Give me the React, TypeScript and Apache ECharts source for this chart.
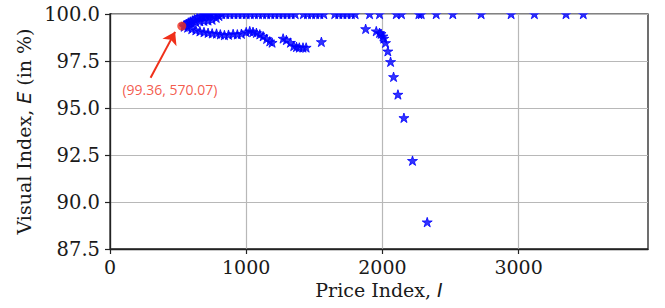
import React, { useEffect, useRef } from "react";
import * as echarts from "echarts";

// Points sitting on the 100 % ceiling
const topRowX = [700, 730, 760, 790, 820, 850, 880, 910, 940, 970, 1000, 1030, 1060, 1090, 1120, 1150, 1180, 1210, 1240, 1270, 1300, 1330, 1360, 1420, 1450, 1480, 1510, 1540, 1570, 1650, 1680, 1710, 1740, 1772, 1800, 1906, 1979, 2102, 2140, 2268, 2285, 2395, 2517, 2725, 2945, 3116, 3348, 3475];
const topRowY = topRowX.map(() => 100);

// Upper rising band from the marked point
const upperX = [545, 560, 575, 590, 605, 620, 640, 660, 680, 700, 720, 740];
const upperY = [99.42, 99.48, 99.55, 99.6, 99.66, 99.72, 99.8, 99.86, 99.9, 99.95, 99.97, 99.99];

// Middle strand (loop)
const midX = [600, 630, 660, 690, 720, 750, 780, 800];
const midY = [99.52, 99.58, 99.62, 99.64, 99.66, 99.7, 99.8, 99.9];

// Lower strand
const lowerX = [545, 570, 600, 630, 660, 690, 720, 750, 782, 810, 840, 870, 904, 935, 965, 1000, 1026, 1050, 1075, 1100, 1124, 1150, 1173, 1190, 1271, 1295, 1325, 1349, 1369, 1390, 1417, 1440, 1552];
const lowerY = [99.33, 99.28, 99.2, 99.14, 99.08, 99.04, 99.0, 98.97, 98.96, 98.92, 98.88, 98.9, 98.94, 98.92, 98.95, 99.04, 99.09, 99.05, 99.0, 98.92, 98.82, 98.68, 98.55, 98.48, 98.7, 98.62, 98.48, 98.3, 98.25, 98.22, 98.22, 98.22, 98.52];

// Sharp drop near I = 2000
const dropX = [1877, 1955, 1979, 1990, 2004, 2010, 2023, 2040, 2060, 2082, 2114, 2158, 2221, 2329];
const dropY = [99.21, 99.09, 99.0, 98.95, 98.82, 98.7, 98.47, 98.02, 97.46, 96.66, 95.72, 94.48, 92.2, 88.93];

// Highlighted point and its annotation
const markedPoint = [527, 99.36];
const annotationText = "(99.36, 570.07)";
const annotationAnchor = [440, 95.98];
const arrowTail = [298, 96.61];
const arrowHead = [478, 99.05];

const xTicks = [0, 1000, 2000, 3000];

const STAR =
  "path://M0,-100 L22.39,-30.82 L95.11,-30.90 L36.23,11.77 L58.78,80.90 L0,38.1 L-58.78,80.90 L-36.23,11.77 L-95.11,-30.90 L-22.39,-30.82 Z";

function zip(xs: number[], ys: number[]) {
  return xs.map((x, i) => [x, ys[i]]);
}

export default function App() {
  const ref = useRef<HTMLDivElement>(null);
  useEffect(() => {
    if (!ref.current) return;
    const chart = echarts.init(ref.current, undefined, { renderer: "svg" });
    const red = "#f0301a";
    const starData = [
      ...zip(lowerX, lowerY),
      ...zip(midX, midY),
      ...zip(upperX, upperY),
      ...zip(topRowX, topRowY),
      ...zip(dropX, dropY),
    ];
    const serif = "DejaVu Serif";
    chart.setOption({
      animation: false,
      grid: {
        left: 110,
        top: 14,
        width: 538,
        height: 235,
        show: true,
        borderColor: "#222",
        borderWidth: 1.3,
        backgroundColor: "transparent",
      },
      xAxis: {
        type: "value",
        min: 0,
        max: 3950,
        interval: 1000,
        name: "Price Index, {i|I}",
        nameLocation: "middle",
        nameGap: 31,
        nameTextStyle: {
          fontFamily: serif,
          fontSize: 19,
          color: "#1a1a1a",
          rich: { i: { fontFamily: "DejaVu Sans", fontStyle: "italic", fontSize: 19, color: "#1a1a1a" } },
        },
        axisLine: { show: true, lineStyle: { color: "#222", width: 1.3 } },
        axisTick: { show: true, length: 5, lineStyle: { color: "#222", width: 1.2 }, customValues: xTicks },
        axisLabel: {
          fontFamily: serif,
          fontSize: 19,
          color: "#1a1a1a",
          margin: 8,
          customValues: xTicks,
          formatter: (v: number) => String(v),
        },
        splitLine: { show: true, lineStyle: { color: "#b8b8b8", width: 1.2 } },
      },
      yAxis: {
        type: "value",
        min: 87.5,
        max: 100,
        interval: 2.5,
        name: "Visual Index, {i|E} (in %)",
        nameLocation: "middle",
        nameRotate: 90,
        nameGap: 77,
        nameTextStyle: {
          fontFamily: serif,
          fontSize: 19,
          color: "#1a1a1a",
          rich: { i: { fontFamily: "DejaVu Sans", fontStyle: "italic", fontSize: 19, color: "#1a1a1a" } },
        },
        axisLine: { show: true, lineStyle: { color: "#222", width: 1.3 } },
        axisTick: { show: true, length: 5, lineStyle: { color: "#222", width: 1.2 } },
        axisLabel: {
          fontFamily: serif,
          fontSize: 19.5,
          color: "#1a1a1a",
          margin: 10,
          formatter: (v: number) => v.toFixed(1),
        },
        splitLine: { show: true, lineStyle: { color: "#b8b8b8", width: 1.2 } },
      },
      series: [
        {
          type: "scatter",
          data: starData,
          symbol: STAR,
          symbolSize: 10,
          symbolKeepAspect: true,
          itemStyle: { color: "#0000ff", borderColor: "#0000ff", borderWidth: 1 },
          clip: false,
          z: 3,
        },
        {
          type: "scatter",
          data: [markedPoint],
          symbol: "circle",
          symbolSize: 9,
          itemStyle: { color: red },
          z: 5,
        },
        {
          type: "scatter",
          data: [annotationAnchor],
          symbolSize: 0,
          z: 6,
          label: {
            show: true,
            position: "inside",
            formatter: annotationText,
            color: red,
            fontFamily: "Open Sans",
            fontSize: 14,
          },
          markLine: {
            silent: true,
            symbol: ["none", "arrow"],
            symbolSize: 12,
            label: { show: false },
            lineStyle: { color: red, width: 2, type: "solid" },
            data: [[{ coord: arrowTail }, { coord: arrowHead }]],
          },
        },
      ],
      graphic: [
        {
          type: "rect",
          shape: { x: 112, y: 0, width: 540, height: 13.2 },
          style: { fill: "#ffffff" },
          z: 100,
        },
      ],
    });
    return () => chart.dispose();
  }, []);
  return <div ref={ref} style={{ width: 665, height: 308, position: "absolute", left: 0, top: 0 }} />;
}
